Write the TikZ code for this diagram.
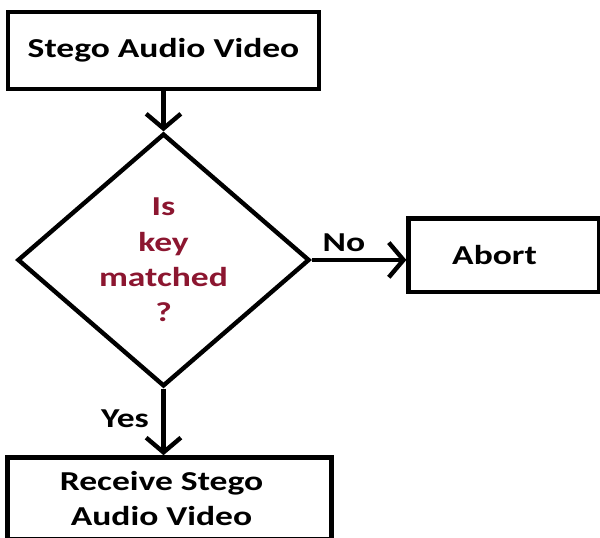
\documentclass[tikz,border=0pt]{standalone}
\usepackage{fontspec}
\setmainfont{Carlito}[FakeStretch=1.3]
\usepackage{tikz}
\usetikzlibrary{arrows.meta,positioning,shapes.geometric}
\definecolor{keyred}{RGB}{140,22,48}

\begin{document}
\begin{tikzpicture}[
    x=0.75pt, y=-0.75pt,
    font=\fontsize{20.5}{26.5}\selectfont\bfseries,
    line width=3.3pt,
    box/.style={draw, rectangle, align=center, inner sep=0pt},
    decision/.style={draw, diamond, aspect=1, inner sep=0pt, align=center, text=keyred},
    arrow/.style={-{Straight Barb[length=11pt, width=26pt]}}
]
\path[use as bounding box, fill=white] (0,0) rectangle (600,537);

\node[box, minimum width=233pt, minimum height=58pt] (stego) at (163.5,50.5) {Stego Audio Video};
\node[decision, minimum width=219pt, minimum height=188pt, below=30pt of stego] (match) {Is\\key\\matched\\?};
\node[box, minimum width=143pt, minimum height=55pt, right=71pt of match, yshift=3.5pt] (abort) {Abort\hspace*{14pt}};
\node[box, minimum width=243pt, minimum height=61.5pt, below=50pt of match, xshift=4.5pt] (recv) {Receive Stego\hspace*{12pt}\\Audio Video\hspace*{12pt}};

\draw[arrow] (stego) -- (match);
\draw[arrow] (match.east) -- node[pos=0.34, above=1pt] (no) {No} (match.east -| abort.west);
\draw[arrow] (match.south) -- node[pos=0.45, left=6pt] (yes) {Yes} (match.south |- recv.north);
\end{tikzpicture}
\end{document}
